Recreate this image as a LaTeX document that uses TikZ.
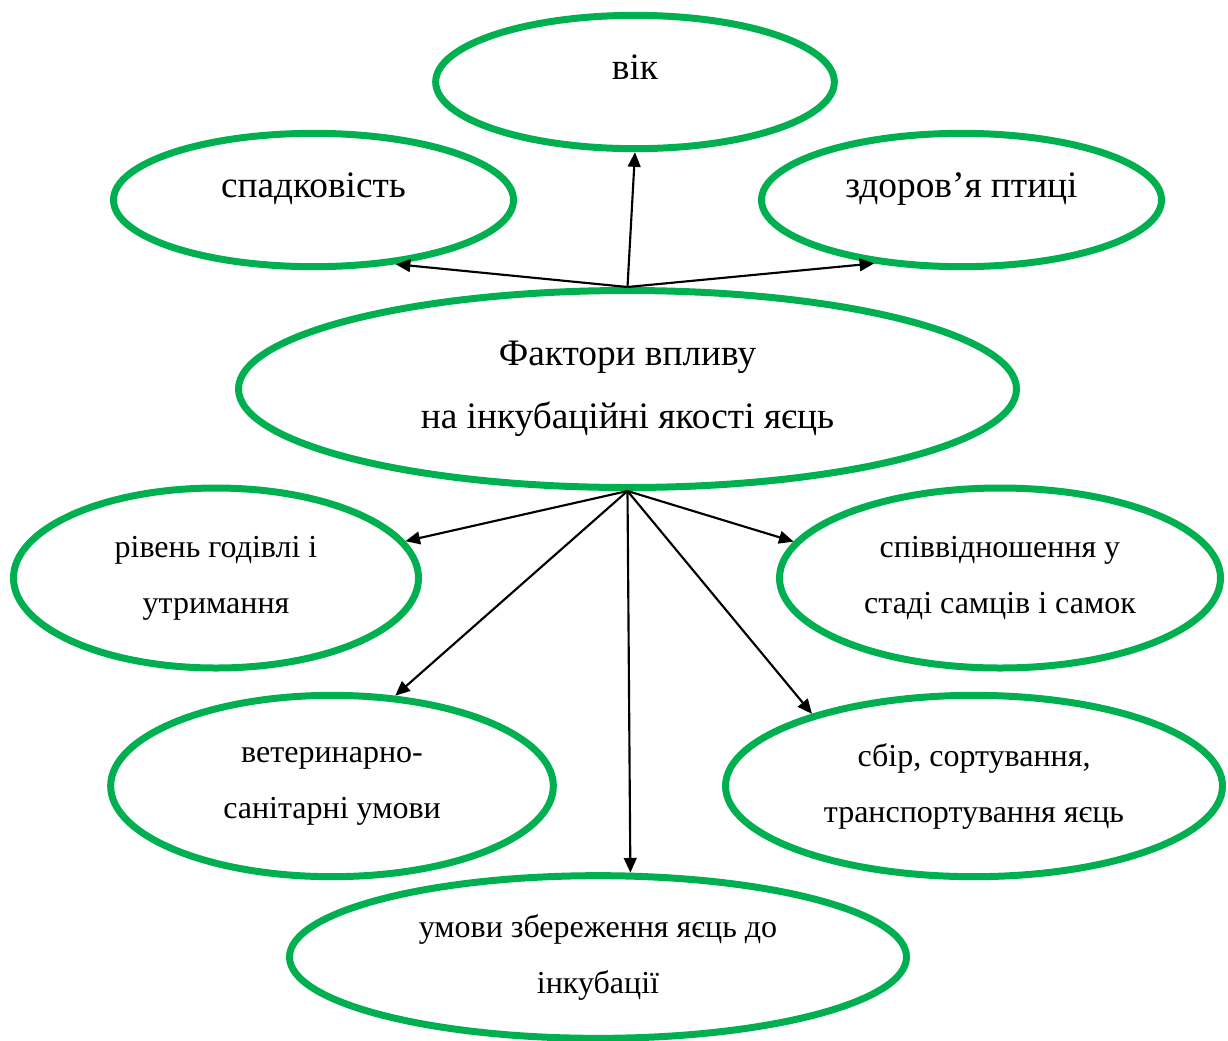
\documentclass[tikz,border=0pt]{standalone}
\usepackage{fontspec}
\setmainfont{Liberation Serif}
\usetikzlibrary{shapes.geometric,arrows.meta}
\definecolor{zelen}{RGB}{0,176,80}
\begin{document}
\begin{tikzpicture}[
      x=0.75pt, y=-0.75pt,
      ovale/.style={
        draw=zelen,
        ellipse,
        line width=5.25pt,
        align=center,
        font=\fontsize{24}{42}\selectfont
      },
      grand/.style={
        font=\fontsize{28}{34}\selectfont,
        text depth=22pt
      },
      fleche/.style={
        -{Triangle[length=11pt,width=9.5pt]},
        line width=1.6pt
      }
    ]
    \useasboundingbox (0,0) rectangle (1228,1040);
    % centre
    \node[ovale, minimum width=583.5pt, minimum height=147.75pt,
      font=\fontsize{28}{47}\selectfont] (centr) at (627.5,389)
      {Фактори впливу\\на інкубаційні якості яєць} ;
    % haut
    \node[ovale, grand, minimum width=299pt, minimum height=100pt] (vik) at (635,82) {вік} ;
    \node[ovale, grand, minimum width=300pt, minimum height=100pt] (spad) at (313.5,200) {спадковість} ;
    \node[ovale, grand, minimum width=300pt, minimum height=100pt] (zdor) at (961.5,200) {здоров’я птиці} ;
    % bas
    \node[ovale, minimum width=303.75pt, minimum height=135pt] (rivn) at (216,578) {рівень годівлі і\\утримання} ;
    \node[ovale, minimum width=330.75pt, minimum height=135pt] (spivv) at (1000,578) {співвідношення у\\стаді самців і самок} ;
    \node[ovale, minimum width=332pt, minimum height=136pt] (vet) at (332,786) {ветеринарно-\\санітарні умови} ;
    \node[ovale, minimum width=372.75pt, minimum height=136pt] (sbir) at (974,786) {сбір, сортування,\\транспортування яєць} ;
    \node[ovale, minimum width=462.75pt, minimum height=122pt] (zber) at (598,957) {умови збереження яєць до\\інкубації} ;
    % fleches
    \draw[fleche] (centr.north) -- (spad.-38);
    \draw[fleche] (centr.north) -- (vik.south);
    \draw[fleche] (centr.north) -- (zdor.-144);
    \draw[fleche] (centr.south) -- (rivn.11);
    \draw[fleche] (centr.south) -- (vet.55);
    \draw[fleche] (centr.south) -- (zber.69);
    \draw[fleche] (centr.south) -- (sbir.156);
    \draw[fleche] (centr.south) -- (spivv.170);
  \end{tikzpicture}
\end{document}
